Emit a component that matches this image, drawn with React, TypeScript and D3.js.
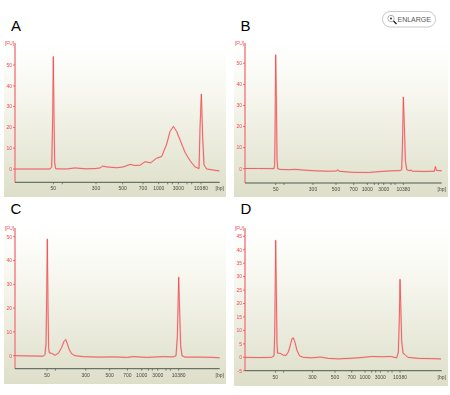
import React from "react";
import * as d3 from "d3";

// Migration position (arbitrary run-time units) and fluorescence (FU) for each sample
const timeA = [45,150,155,158,160,162,164,167,200,225,255,285,300,308,320,350,370,390,405,420,435,452,470,485,500,510,520,530,545,555,570,585,597,600,604,608,612,620,640,658];
const fuA = [0,0,1,25,54,25,3,0.1,0,0.5,0.1,0.2,0.5,1.4,1,0.6,1,2.2,1.7,1.8,3.5,3,5.2,6,12,18,20.5,18,12,8,4,1,0.2,20,36,15,2,0,-0.5,-0.9];
const timeB = [60,100,147,149,150,152,154,156,158,165,190,210,230,270,310,335,338,342,380,430,470,500,525,530,532,535,538,541,545,555,558,562,600,628,631,634,650];
const fuB = [0.1,0.1,0,2,15,54,35,5,0,-0.3,-0.5,-0.3,-0.6,-1,-1.2,-1.1,-0.5,-1.2,-1.7,-1.8,-1.3,-1,-0.9,-0.5,10,34,20,4,-0.5,-1,-0.6,-1.2,-1.3,-1.2,1,-0.8,-1];
const timeC = [45,130,135,138,140,142,144,146,148,155,165,175,185,192,197,202,208,215,225,250,300,340,380,400,440,490,520,528,532,536,539,542,546,555,600,640,659];
const fuC = [0,-0.2,0.5,5,25,49,20,3,1.2,1,0.2,1,3.5,6,6.8,5,2.5,0.8,0,-0.4,-0.6,-0.5,-0.7,-0.4,-0.7,-0.4,-0.5,0,8,33,18,4,0,-0.6,-0.6,-0.7,-0.9];
const timeD = [60,100,140,147,149,151,152,154,156,158,165,175,183,190,197,201,205,210,216,224,235,260,285,310,340,400,440,470,497,515,520,523,525,527,530,534,540,548,580,620,648];
const fuD = [0,-0.1,0,0.5,8,30,43.5,25,5,1.5,1.5,0.8,0.7,2,5,7,7.2,5.5,2.5,0.5,0,-0.2,0.1,-0.4,-0.6,-0.2,0.3,0.2,0.3,-0.2,2,15,29,20,6,1.5,1,0,-0.4,-0.5,-0.6];

// Ladder tick positions on the migration axis; labels are blank for unlabelled ladder bands
const ladderLabels = ["50","","300","500","700","1000","","","3000","","","10380"];
const ladderA = [160,187,288,368,429,476,503,517,535,561,575,603];
const ladderB = [152,177,264,333,386,427,448,460,476,498,510,535];
const ladderC = [141,166,257,329,382,425,445,457,473,498,511,536];
const ladderD = [151,176,262,330,380,420,440,452,466,489,501,525];

const ticksTens = [0,10,20,30,40,50];
const ticksFives = [-5,0,5,10,15,20,25,30,35,40,45];

const panels = [
  { name:"A", t:timeA, v:fuA, ladder:ladderA, ticks:ticksTens, box:[4,42,226,197], lx:11, ly:31, dom:[45,659], xr:[15,219.7], ref:[0,50], yr:[169,65], axisY:182.3, topY:43 },
  { name:"B", t:timeB, v:fuB, ladder:ladderB, ticks:ticksTens, box:[234,42,448,197], lx:240.5, ly:31, dom:[60,650], xr:[245,441.7], ref:[0,50], yr:[168.7,63.3], axisY:183, topY:43 },
  { name:"C", t:timeC, v:fuC, ladder:ladderC, ticks:ticksTens, box:[4,225,226,384], lx:10.5, ly:214, dom:[45,659], xr:[15,219.7], ref:[0,50], yr:[355.7,236.7], axisY:368.7, topY:228 },
  { name:"D", t:timeD, v:fuD, ladder:ladderD, ticks:ticksFives, box:[234,225,448,386], lx:240.5, ly:214, dom:[60,650], xr:[245,441.7], ref:[0,45], yr:[357.3,236.3], axisY:370.7, topY:228 },
];

const RED = "#ee4a50";
const GREY = "#4d5a50";
const SMALL = "'Liberation Sans', Arial, sans-serif";

function Panel({ p }: { p: (typeof panels)[number] }) {
  const x = d3.scaleLinear().domain(p.dom).range(p.xr);
  const y = d3.scaleLinear().domain(p.ref).range(p.yr);
  const pts = p.t.map((t, i) => [t, p.v[i]] as [number, number]);
  const line = d3.line<[number, number]>().x(d => x(d[0])).y(d => y(d[1]));
  const [x0, y0, x1, y1] = p.box;
  const left = p.xr[0];
  const right = p.xr[1];
  return (
    <g>
      <rect x={x0} y={y0} width={x1 - x0} height={y1 - y0} fill="url(#bg)" />
      <text x={p.lx} y={p.ly} fontFamily={SMALL} fontSize={15} fill="#000">{p.name}</text>
      <g filter="url(#soft)">
        <line x1={left} x2={left} y1={p.topY} y2={p.axisY} stroke="#f08a8e" strokeWidth={1.6} />
        <line x1={left} x2={right} y1={p.axisY} y2={p.axisY} stroke={GREY} strokeWidth={1} />
        {p.ticks.map(t => (
          <g key={t}>
            <line x1={left - 2} x2={left} y1={y(t)} y2={y(t)} stroke={RED} strokeWidth={0.8} />
            <text x={left - 3} y={y(t) + 1.8} textAnchor="end" fontFamily={SMALL} fontSize={5} fill={RED}>{t}</text>
          </g>
        ))}
        <text x={left - 1} y={p.topY + 1.5} textAnchor="end" fontFamily={SMALL} fontSize={4.8} fill={RED}>[FU]</text>
        {p.ladder.map((t, i) => (
          <g key={t}>
            <line x1={x(t)} x2={x(t)} y1={p.axisY} y2={p.axisY + 2} stroke={GREY} strokeWidth={0.7} />
            {ladderLabels[i] && (
              <text x={x(t)} y={p.axisY + 7.8} textAnchor="middle" fontFamily={SMALL} fontSize={5} fill="#4a4a40">{ladderLabels[i]}</text>
            )}
          </g>
        ))}
        <text x={right} y={p.axisY + 7.8} textAnchor="middle" fontFamily={SMALL} fontSize={5} fill="#4a4a40">[bp]</text>
        <path d={line(pts) ?? ""} fill="none" stroke="#f78a8e" strokeOpacity={0.35} strokeWidth={1.7} strokeLinejoin="round" />
        <path d={line(pts) ?? ""} fill="none" stroke={RED} strokeWidth={0.8} strokeLinejoin="round" />
      </g>
    </g>
  );
}

export default function App() {
  return (
    <svg width={450} height={395} style={{ position: "absolute", left: 0, top: 0, background: "#fff" }}>
      <defs>
        <linearGradient id="bg" x1="0" y1="0" x2="0" y2="1">
          <stop offset="0" stopColor="#ffffff" />
          <stop offset="0.3" stopColor="#f8f8f1" />
          <stop offset="1" stopColor="#dddfc9" />
        </linearGradient>
        <filter id="soft" x="-5%" y="-5%" width="110%" height="110%">
          <feGaussianBlur stdDeviation="0.3" />
        </filter>
      </defs>
      {panels.map(p => <Panel key={p.name} p={p} />)}
      <rect x={382.5} y={11.5} width={53} height={15.5} rx={7.7} fill="#fff" stroke="#c8c8c8" />
      <circle cx={391} cy={18.5} r={3.2} fill="#fff" stroke="#9a9a9a" strokeWidth={0.8} />
      <circle cx={391} cy={18.5} r={1} fill="#333" />
      <line x1={393.5} y1={21} x2={396.5} y2={24} stroke="#222" strokeWidth={1.4} />
      <text x={397.5} y={22} fontFamily={SMALL} fontSize={7} fill="#555">ENLARGE</text>
    </svg>
  );
}
